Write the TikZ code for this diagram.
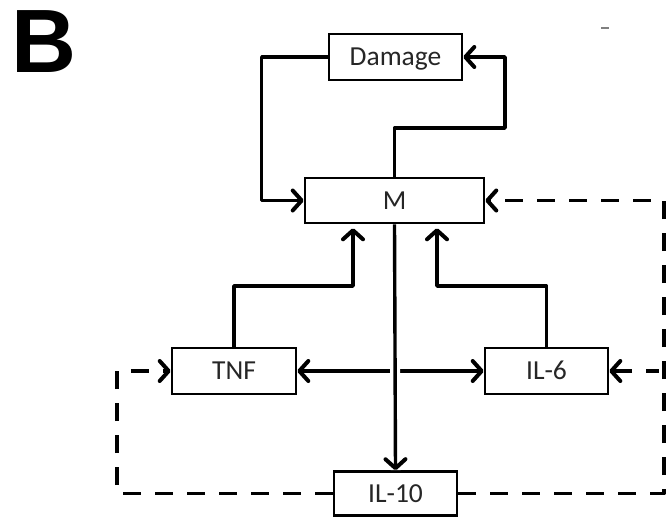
\documentclass[tikz,border=0pt]{standalone}
\usepackage{fontspec}
\setmainfont{Carlito}
\newfontfamily\letterfont{Liberation Sans}
\usetikzlibrary{arrows.meta,calc}
\begin{document}
\begin{tikzpicture}[x=1pt,y=-1pt,
  box/.style={draw=black, line width=2.6pt, rectangle, inner sep=0pt,
    text height=17.5pt, text depth=0pt, minimum height=46pt,
    font=\fontsize{27.5}{30}\selectfont, text=black!85},
  halo/.style={preaction={draw=white,line width=10pt,solid,arrows=-}},
  conn/.style={line width=3.4pt, line join=round, halo},
  dconn/.style={conn, dash pattern=on 18pt off 14pt},
  tip/.style={arrows={-{Straight Barb[length=9pt,width=20pt,line width=4pt,round,sep=0pt]}}},
  tips/.style={arrows={{Straight Barb[length=9pt,width=20pt,line width=4pt,round]}-{Straight Barb[length=9pt,width=20pt,line width=4pt,round]}}}
]
\useasboundingbox (0,0) rectangle (666,522);
\node[anchor=base west, font=\letterfont\bfseries\fontsize{90}{90}\selectfont, inner sep=0pt] (lab) at (11.5,72) {B};
\draw[gray, line width=2.5pt] (601,28) -- (609,28);

\node[box, minimum width=133pt] (dmg) at (395.5,57) {Damage};
\node[box, minimum width=179pt, minimum height=45pt] (m) at (394.5,200.5) {M};
\node[box, minimum width=124pt] (tnf) at (234,371) {TNF};
\node[box, minimum width=123pt] (il6) at (546.5,371) {IL-6};
\node[box, minimum width=123pt, minimum height=44pt] (il10) at (395.5,493.5) {IL-10};
\coordinate (jr) at (664,371);

% solid connectors
\draw[conn,tip] (dmg.west) -- ++(-66,0) |- (m.west);
\draw[conn,tip] (m.north) |- (505,128) |- (dmg.east);
\draw[conn,tip] (tnf.north) |- (353,286) -- ($(m.south)+(-41.5,4)$);
\draw[conn,tip] (il6.north) |- (437,286) -- ($(m.south)+(42.5,4)$);
\draw[conn,tips] (tnf.east) -- (il6.west);
\draw[conn,tip] (m.south) -- (il10.north);

% dashed connectors
\draw[dconn,tip] (jr) -- (il6.east);
\draw[dconn,tip] (il10.east) -| (664,200.5) -- (m.east);
\draw[dconn,tip] (il10.west) -| (117,371) -- (tnf.west);
\end{tikzpicture}
\end{document}
